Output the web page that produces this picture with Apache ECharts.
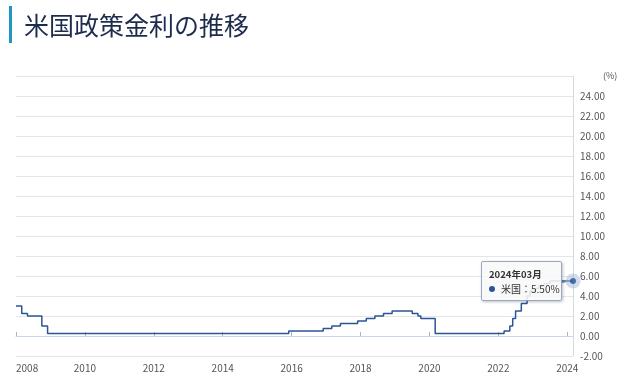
<!DOCTYPE html>
<html>
<head>
<meta charset="utf-8">
<script src="https://cdn.jsdelivr.net/npm/echarts@6/dist/echarts.min.js"></script>
<style>
html,body{margin:0;padding:0;background:#fff;}
#main{width:625px;height:381px;}
</style>
</head>
<body>
<div id="main"></div>
<script>
// ---- data ----
const titleText = '米国政策金利の推移';
const seriesName = '米国';
const startYear = 2008;
const endYear = 2024;
const endMonth = 3;
// monthly policy rate (upper bound, %), 2008-01 .. 2024-03
const rates = [
  // 2008
  3.00, 3.00, 2.25, 2.25, 2.00, 2.00, 2.00, 2.00, 2.00, 1.00, 1.00, 0.25,
  // 2009
  0.25, 0.25, 0.25, 0.25, 0.25, 0.25, 0.25, 0.25, 0.25, 0.25, 0.25, 0.25,
  // 2010
  0.25, 0.25, 0.25, 0.25, 0.25, 0.25, 0.25, 0.25, 0.25, 0.25, 0.25, 0.25,
  // 2011
  0.25, 0.25, 0.25, 0.25, 0.25, 0.25, 0.25, 0.25, 0.25, 0.25, 0.25, 0.25,
  // 2012
  0.25, 0.25, 0.25, 0.25, 0.25, 0.25, 0.25, 0.25, 0.25, 0.25, 0.25, 0.25,
  // 2013
  0.25, 0.25, 0.25, 0.25, 0.25, 0.25, 0.25, 0.25, 0.25, 0.25, 0.25, 0.25,
  // 2014
  0.25, 0.25, 0.25, 0.25, 0.25, 0.25, 0.25, 0.25, 0.25, 0.25, 0.25, 0.25,
  // 2015
  0.25, 0.25, 0.25, 0.25, 0.25, 0.25, 0.25, 0.25, 0.25, 0.25, 0.25, 0.50,
  // 2016
  0.50, 0.50, 0.50, 0.50, 0.50, 0.50, 0.50, 0.50, 0.50, 0.50, 0.50, 0.75,
  // 2017
  0.75, 0.75, 1.00, 1.00, 1.00, 1.25, 1.25, 1.25, 1.25, 1.25, 1.25, 1.50,
  // 2018
  1.50, 1.50, 1.75, 1.75, 1.75, 2.00, 2.00, 2.00, 2.25, 2.25, 2.25, 2.50,
  // 2019
  2.50, 2.50, 2.50, 2.50, 2.50, 2.50, 2.25, 2.25, 2.00, 1.75, 1.75, 1.75,
  // 2020
  1.75, 1.75, 0.25, 0.25, 0.25, 0.25, 0.25, 0.25, 0.25, 0.25, 0.25, 0.25,
  // 2021
  0.25, 0.25, 0.25, 0.25, 0.25, 0.25, 0.25, 0.25, 0.25, 0.25, 0.25, 0.25,
  // 2022
  0.25, 0.25, 0.50, 0.50, 1.00, 1.75, 2.50, 2.50, 3.25, 3.25, 4.00, 4.50,
  // 2023
  4.50, 4.75, 5.00, 5.00, 5.25, 5.25, 5.50, 5.50, 5.50, 5.50, 5.50, 5.50,
  // 2024
  5.50, 5.50, 5.50
];
const yMin = -2, yMax = 26, yStep = 2;
const yAxisName = '(%)';

// month category labels
const months = [];
for (let y = startYear; y <= endYear; y++) {
  for (let m = 1; m <= 12; m++) {
    if (y === endYear && m > endMonth) break;
    months.push(y + '年' + String(m).padStart(2, '0') + '月');
  }
}
const lastIdx = rates.length - 1;

const chart = echarts.init(document.getElementById('main'), null, {renderer: 'canvas'});
const lineColor = '#2c5596';
const fontFam = '"Noto Sans CJK JP", "Noto Sans", sans-serif';

chart.setOption({
  animation: false,
  textStyle: {fontFamily: fontFam},
  title: {
    text: titleText,
    left: 19,
    top: 8,
    textStyle: {fontSize: 25, fontWeight: 'normal', color: '#1d2b4d', fontFamily: fontFam}
  },
  graphic: [
    {type: 'rect', shape: {x: 9, y: 6, width: 3, height: 37}, style: {fill: '#1e98c2'}},
    {type: 'line', shape: {x1: 561, y1: 283, x2: 569, y2: 281}, style: {stroke: '#8a9ab3', lineWidth: 1}, z: 100}
  ],
  grid: {left: 16, right: 52, top: 76, bottom: 25, containLabel: false},
  tooltip: {
    trigger: 'item',
    triggerOn: 'none',
    alwaysShowContent: true,
    transitionDuration: 0,
    position: function () { return [481, 261]; },
    backgroundColor: 'rgba(248,248,248,0.88)',
    borderColor: '#9aa8bf',
    borderWidth: 1,
    padding: [5, 6, 4, 7],
    extraCssText: 'box-shadow:1px 1px 3px rgba(0,0,0,0.25);border-radius:2px;width:66px;',
    formatter: function (p) {
      const idx = lastIdx;
      return '<div style="font-size:9.5px;font-weight:bold;color:#333;line-height:14px;font-family:' + fontFam.replace(/"/g, "'") + '">' + months[idx] + '</div>' +
        '<div style="font-size:10px;color:#333;line-height:15px;white-space:nowrap;font-family:' + fontFam.replace(/"/g, "'") + '">' +
        '<span style="display:inline-block;width:6px;height:6px;border-radius:50%;background:' + lineColor + ';margin-right:6px;vertical-align:1px"></span>' +
        seriesName + '：' + rates[idx].toFixed(2) + '%</div>';
    }
  },
  xAxis: {
    type: 'category',
    data: months,
    boundaryGap: false,
    axisLine: {show: true, lineStyle: {color: '#ccd6eb', width: 1}},
    axisTick: {
      show: true,
      inside: true,
      length: 4,
      interval: function (i) { return i % 24 === 0; },
      lineStyle: {color: '#aab4c4'}
    },
    axisLabel: {
      interval: function (i) { return i % 24 === 0; },
      formatter: function (v) { return v.slice(0, 4); },
      color: '#555',
      fontSize: 10,
      margin: 7,
      fontFamily: fontFam,
      alignMinLabel: 'left'
    },
    splitLine: {show: false}
  },
  yAxis: {
    type: 'value',
    position: 'right',
    min: yMin,
    max: yMax,
    interval: yStep,
    name: yAxisName,
    nameLocation: 'end',
    nameGap: 0,
    nameTextStyle: {color: '#555', fontSize: 9, align: 'left', verticalAlign: 'middle', padding: [0, 0, 0, 30]},
    axisLine: {show: true, lineStyle: {color: '#d4d9e2'}},
    axisTick: {show: false},
    axisLabel: {
      color: '#555',
      fontSize: 10,
      margin: 7,
      showMaxLabel: false,
      fontFamily: fontFam,
      formatter: function (v) { return v.toFixed(2); }
    },
    splitLine: {show: true, lineStyle: {color: '#e6e6e6', width: 1}}
  },
  series: [
    {
      name: seriesName,
      type: 'line',
      step: 'end',
      data: rates,
      showSymbol: false,
      lineStyle: {color: lineColor, width: 1.5},
      itemStyle: {color: lineColor},
      emphasis: {disabled: true},
      z: 3
    },
    {
      type: 'scatter',
      data: [[months[lastIdx], rates[lastIdx]]],
      symbolSize: 15,
      itemStyle: {color: 'rgba(160,182,214,0.6)'},
      emphasis: {disabled: true},
      silent: true,
      z: 4
    },
    {
      name: seriesName,
      type: 'scatter',
      data: [[months[lastIdx], rates[lastIdx]]],
      symbolSize: 6,
      itemStyle: {color: lineColor},
      emphasis: {disabled: true},
      z: 5
    }
  ]
});
chart.dispatchAction({type: 'showTip', seriesIndex: 2, dataIndex: 0});
</script>
</body>
</html>
